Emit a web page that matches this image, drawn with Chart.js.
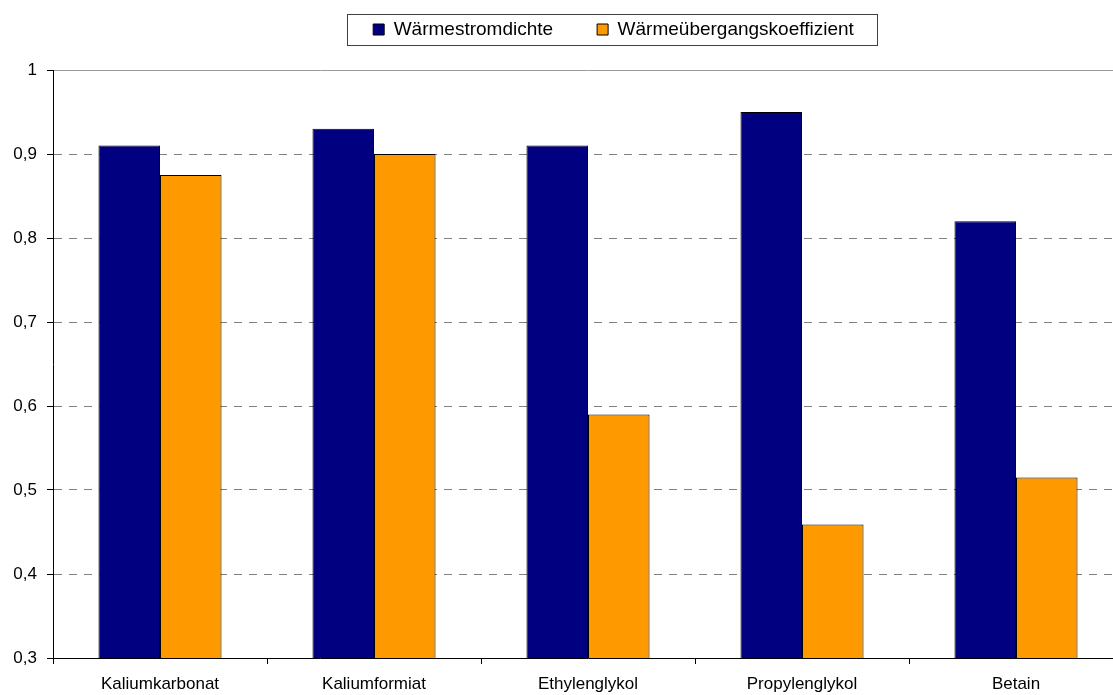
<!DOCTYPE html>
<html>
<head>
<meta charset="utf-8">
<script src="https://cdn.jsdelivr.net/npm/chart.js@4/dist/chart.umd.min.js"></script>
<style>
  html, body { margin: 0; padding: 0; background: #fff; overflow: hidden; }
  #wrap { width: 1126px; height: 695px; position: relative; }
</style>
</head>
<body>
<div id="wrap"><canvas id="c"></canvas></div>
<script>
const categories = ['Kaliumkarbonat', 'Kaliumformiat', 'Ethylenglykol', 'Propylenglykol', 'Betain'];
const seriesNames = ['Wärmestromdichte', 'Wärmeübergangskoeffizient'];
const waermestromdichte = [0.91, 0.93, 0.91, 0.95, 0.82];
const waermeuebergang = [0.875, 0.90, 0.59, 0.459, 0.515];
const yMin = 0.3, yMax = 1, yStep = 0.1;

const FONT = "'Liberation Sans', Arial, sans-serif";

const legendTweaks = {
  id: 'legendTweaks',
  beforeInit(chart) {
    const lg = chart.legend;
    if (!lg) return;
    const origFit = lg.fit;
    lg.fit = function () {
      origFit.call(this);
      this.height = 70;
    };
  },
  afterLayout(chart) {
    const lg = chart.legend;
    if (!lg) return;
    lg.left += 52; lg.right += 52;
    lg.top = -24;
  },
  afterDraw(chart) {
    const lg = chart.legend;
    if (!lg || !lg.legendHitBoxes || !lg.legendHitBoxes.length) return;
    const hb = lg.legendHitBoxes;
    const l = hb[0].left, r = hb[hb.length - 1].left + hb[hb.length - 1].width;
    const cy = hb[0].top + hb[0].height / 2;
    const ctx = chart.ctx;
    ctx.save();
    ctx.strokeStyle = '#404040';
    ctx.lineWidth = 1;
    ctx.strokeRect(Math.round(l - 26) + 0.5, Math.round(cy - 16) + 0.5, Math.round(r - l + 49), 31);
    ctx.restore();
  }
};

new Chart(document.getElementById('c'), {
  type: 'bar',
  data: {
    labels: categories,
    datasets: [
      { label: seriesNames[0], data: waermestromdichte, backgroundColor: '#000080', borderColor: '#000000', borderWidth: 1 },
      { label: seriesNames[1], data: waermeuebergang, backgroundColor: '#FF9900', borderColor: '#000000', borderWidth: 1 }
    ]
  },
  plugins: [legendTweaks],
  options: {
    responsive: true,
    maintainAspectRatio: false,
    animation: false,
    layout: { padding: { left: 0, right: 3, top: 0, bottom: 0 } },
    datasets: { bar: { categoryPercentage: 0.575, barPercentage: 1.0 } },
    plugins: {
      tooltip: { enabled: false },
      legend: {
        position: 'top',
        align: 'center',
        labels: {
          color: '#000',
          font: { family: FONT, size: 19 },
          boxWidth: 11,
          boxHeight: 11,
          padding: 44
        }
      }
    },
    scales: {
      x: {
        afterFit(scale) { scale.height = 37; },
        grid: { display: true, drawOnChartArea: false, drawTicks: true, tickLength: 6, tickColor: '#000', offset: true },
        border: { display: true, color: '#000', width: 1 },
        ticks: { color: '#000', font: { family: FONT, size: 17 }, padding: 10, maxRotation: 0 }
      },
      xTop: {
        type: 'category',
        position: 'top',
        labels: categories,
        grid: { display: false, drawTicks: false },
        ticks: { display: false },
        border: { display: true, color: '#9a9a9a', width: 1 }
      },
      y: {
        min: yMin, max: yMax,
        afterFit(scale) { scale.width = 53; },
        grid: { color: '#808080', lineWidth: 1, drawTicks: true, tickLength: 6, tickColor: '#000', tickBorderDash: [] },
        border: { display: true, color: '#000', width: 1, dash: [8, 7] },
        ticks: {
          stepSize: yStep,
          color: '#000',
          font: { family: FONT, size: 17 },
          padding: 10,
          callback: (v) => String(Number(Number(v).toFixed(1))).replace('.', ',')
        }
      }
    }
  }
});
</script>
</body>
</html>
